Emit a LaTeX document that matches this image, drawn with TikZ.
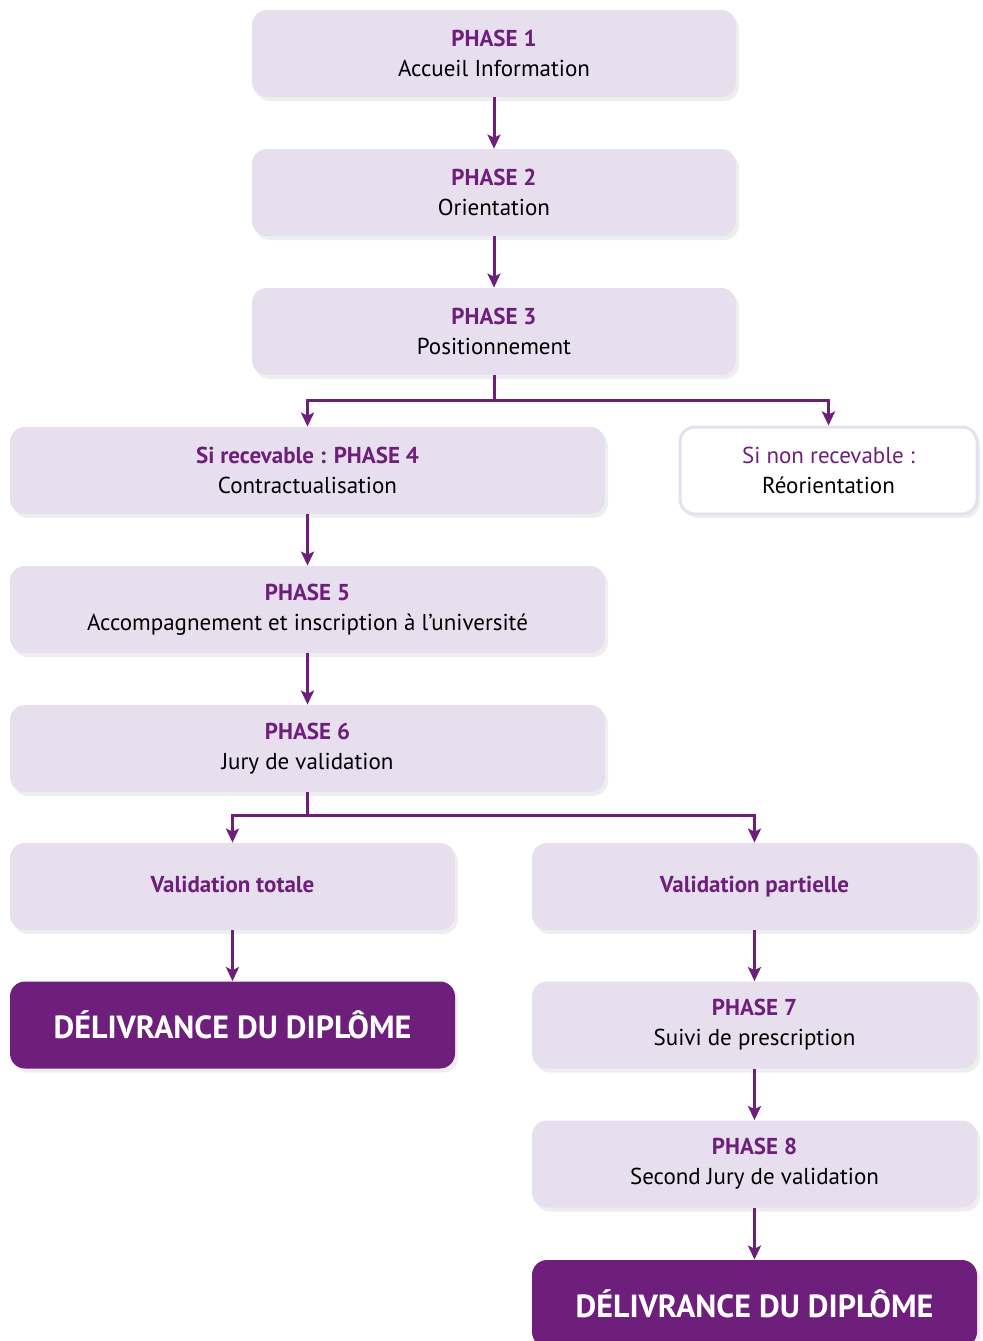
\documentclass[tikz,border=0pt]{standalone}
\usepackage{fontspec}
\setmainfont{PT Sans}
\usetikzlibrary{positioning}
\usetikzlibrary{shadows}
\usetikzlibrary{arrows.meta}
\definecolor{phasepurple}{HTML}{6E1F7B}
\definecolor{phasefill}{HTML}{E7DFEE}

\tikzset{
  boxshadow/.style={drop shadow={shadow xshift=1.5pt, shadow yshift=-2pt, fill=black!30, opacity=0.22}},
  phase/.style={rounded corners=7.5pt, fill=phasefill, minimum height=43.5pt, inner sep=0pt,
    align=center, font=\fontsize{11.5}{15}\selectfont, boxshadow},
  wide/.style={phase, minimum width=242pt},
  long/.style={phase, minimum width=297.5pt},
  half/.style={phase, minimum width=222.5pt},
  outcome/.style={phase, minimum width=148.5pt, fill=white, draw=phasefill, line width=1.5pt},
  diploma/.style={half, fill=phasepurple, text=white, font=\fontsize{16}{18}\selectfont\bfseries},
  flow/.style={draw=phasepurple, line width=1.5pt, -{Stealth[length=7pt, width=6.5pt, inset=1.5pt]}}
}
\newcommand{\phasetitle}[1]{{\bfseries\color{phasepurple}#1}}

\begin{document}
\begin{tikzpicture}[x=0.5pt, y=-0.5pt]
    \useasboundingbox (0,0) rectangle (982,1341);
    % central column
    \node [wide] (p1) at (494,53.5) {\phasetitle{PHASE 1}\\Accueil Information};
    \node [wide] (p2) at (494,192.5) {\phasetitle{PHASE 2}\\Orientation};
    \node [wide] (p3) at (494,331.5) {\phasetitle{PHASE 3}\\Positionnement};
    % after positionnement
    \node [long] (p4) at (307.5,470.5) {\phasetitle{Si recevable : PHASE 4}\\Contractualisation};
    \node [outcome] (reo) at (828.5,470.5) {{\color{phasepurple}Si non recevable :}\\Réorientation};
    \node [long] (p5) at (307.5,609.5) {\phasetitle{PHASE 5}\\Accompagnement et inscription à l’université};
    \node [long] (p6) at (307.5,748.5) {\phasetitle{PHASE 6}\\Jury de validation};
    % jury outcomes
    \node [half] (vtot) at (232.5,886.5) {\strut\phasetitle{Validation totale}};
    \node [half] (vpart) at (754.5,886.5) {\strut\phasetitle{Validation partielle}};
    \node [diploma] (dip1) at (232.5,1025) {DÉLIVRANCE DU DIPLÔME};
    \node [half] (p7) at (754.5,1025) {\phasetitle{PHASE 7}\\Suivi de prescription};
    \node [half] (p8) at (754.5,1164) {\phasetitle{PHASE 8}\\Second Jury de validation};
    \node [diploma] (dip2) at (754.5,1303.5) {DÉLIVRANCE DU DIPLÔME};

    \draw [flow] (p1) -- (p2);
    \draw [flow] (p2) -- (p3);
    \draw [flow] (p3.south) -- ++(0,25) -| (p4.north);
    \draw [flow] (p3.south) -- ++(0,25) -| (reo.north);
    \draw [flow] (p4) -- (p5);
    \draw [flow] (p5) -- (p6);
    \draw [flow] (p6.south) -- ++(0,23) -| (vtot.north);
    \draw [flow] (p6.south) -- ++(0,23) -| (vpart.north);
    \draw [flow] (vtot) -- (dip1);
    \draw [flow] (vpart) -- (p7);
    \draw [flow] (p7) -- (p8);
    \draw [flow] (p8) -- (dip2);
\end{tikzpicture}
\end{document}
